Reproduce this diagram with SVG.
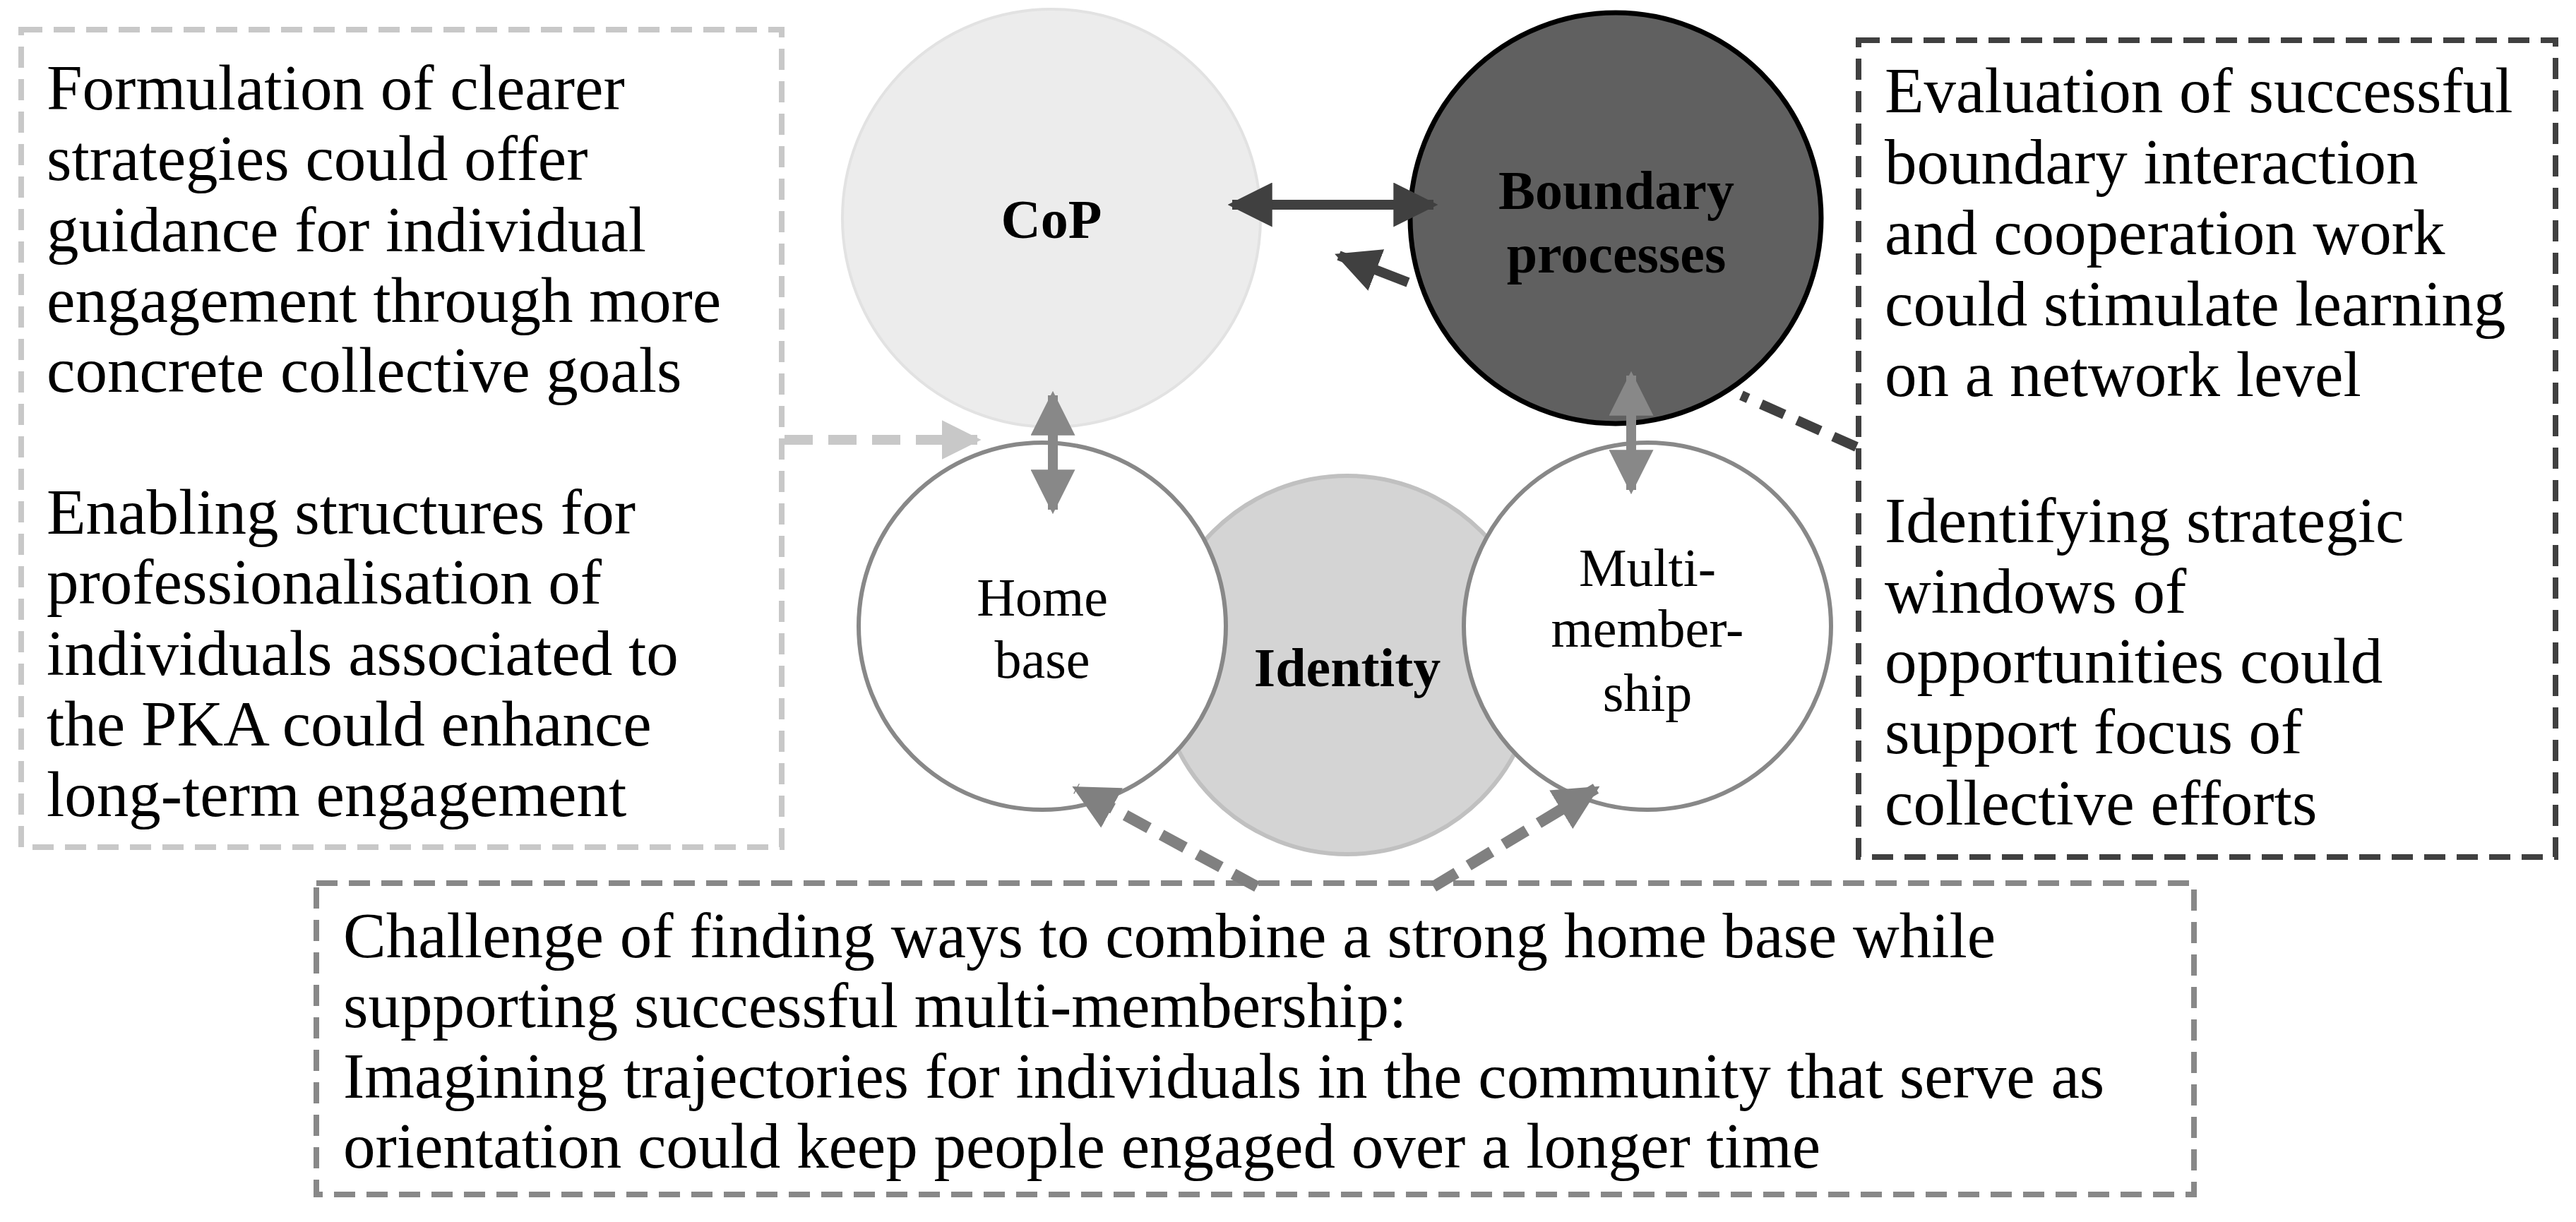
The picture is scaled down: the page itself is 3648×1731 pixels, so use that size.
<svg xmlns="http://www.w3.org/2000/svg" width="3648" height="1731" viewBox="0 0 3648 1731">
<style>
text{font-family:"Liberation Serif","DejaVu Serif",serif;fill:#000}
.t{font-size:91px}
.c{font-size:76px;text-anchor:middle}
.b{font-size:78px;font-weight:bold;text-anchor:middle}
.box{fill:none;stroke-width:8;stroke-dasharray:30 16}
</style>
<defs>
<marker id="hd" viewBox="0 0 10 10" refX="9" refY="5" markerWidth="4.5" markerHeight="4.5" orient="auto-start-reverse"><path d="M0,0L10,5L0,10z" fill="#404040"/></marker>
<marker id="hg" viewBox="0 0 10 10" refX="9" refY="5" markerWidth="4.5" markerHeight="4.5" orient="auto-start-reverse"><path d="M0,0L10,5L0,10z" fill="#888"/></marker>
<marker id="hl" viewBox="0 0 10 10" refX="9" refY="5" markerWidth="4" markerHeight="4" orient="auto"><path d="M0,0L10,5L0,10z" fill="#c8c8c8"/></marker>
<marker id="hm" viewBox="0 0 10 10" refX="9" refY="5" markerWidth="4" markerHeight="4" orient="auto"><path d="M0,0L10,5L0,10z" fill="#808080"/></marker>
</defs>
<rect width="3648" height="1731" fill="#fff"/>
<g id="cop"><circle cx="1489" cy="309" r="296" fill="#ececec" stroke="#e2e2e2" stroke-width="4"/><text class="b" x="1489" y="337">CoP</text></g>
<g id="boundary"><circle cx="2288" cy="309" r="291" fill="#606060" stroke="#000" stroke-width="7"/><text class="b" x="2289" y="296">Boundary</text><text class="b" x="2289" y="386">processes</text></g>
<g id="identity"><circle cx="1908" cy="942" r="268" fill="#d4d4d4" stroke="#c0c0c0" stroke-width="6"/><text class="b" x="1908" y="972">Identity</text></g>
<g id="home"><circle cx="1476" cy="887" r="260" fill="#fff" stroke="#888" stroke-width="6"/><text class="c" x="1476" y="872">Home</text><text class="c" x="1476" y="960">base</text></g>
<g id="multi"><circle cx="2333" cy="887" r="260" fill="#fff" stroke="#888" stroke-width="6"/><text class="c" x="2333" y="830">Multi-</text><text class="c" x="2333" y="916">member-</text><text class="c" x="2333" y="1007">ship</text></g>
<g id="leftbox"><rect class="box" x="30" y="42" width="1077" height="1158" stroke="#c8c8c8"/>
<text class="t" x="66" y="155">Formulation of clearer</text>
<text class="t" x="66" y="255">strategies could offer</text>
<text class="t" x="66" y="356">guidance for individual</text>
<text class="t" x="66" y="456">engagement through more</text>
<text class="t" x="66" y="555">concrete collective goals</text>
<text class="t" x="66" y="756">Enabling structures for</text>
<text class="t" x="66" y="855">professionalisation of</text>
<text class="t" x="66" y="956">individuals associated to</text>
<text class="t" x="66" y="1056">the PKA could enhance</text>
<text class="t" x="66" y="1156">long-term engagement</text></g>
<g id="rightbox"><rect class="box" x="2632" y="57" width="987" height="1157" stroke="#404040" stroke-width="9"/>
<text class="t" x="2669" y="159">Evaluation of successful</text>
<text class="t" x="2669" y="260">boundary interaction</text>
<text class="t" x="2669" y="360">and cooperation work</text>
<text class="t" x="2669" y="461">could stimulate learning</text>
<text class="t" x="2669" y="561">on a network level</text>
<text class="t" x="2669" y="768">Identifying strategic</text>
<text class="t" x="2669" y="868">windows of</text>
<text class="t" x="2669" y="967">opportunities could</text>
<text class="t" x="2669" y="1067">support focus of</text>
<text class="t" x="2669" y="1168">collective efforts</text></g>
<g id="bottombox"><rect class="box" x="448" y="1251" width="2659" height="441" stroke="#888"/>
<text class="t" x="486" y="1356">Challenge of finding ways to combine a strong home base while</text>
<text class="t" x="486" y="1455">supporting successful multi-membership:</text>
<text class="t" x="486" y="1555">Imagining trajectories for individuals in the community that serve as</text>
<text class="t" x="486" y="1654">orientation could keep people engaged over a longer time</text></g>
<g id="connectors" fill="none">
<line x1="1745" y1="290" x2="2030" y2="290" stroke="#404040" stroke-width="14" marker-start="url(#hd)" marker-end="url(#hd)"/>
<line x1="1994" y1="400" x2="1896" y2="362" stroke="#404040" stroke-width="14" marker-end="url(#hd)"/>
<line x1="1491" y1="560" x2="1491" y2="722" stroke="#888" stroke-width="14" marker-start="url(#hg)" marker-end="url(#hg)"/>
<line x1="2310" y1="532" x2="2310" y2="694" stroke="#888" stroke-width="14" marker-start="url(#hg)" marker-end="url(#hg)"/>
<line x1="1111" y1="623" x2="1384" y2="623" stroke="#c8c8c8" stroke-width="14" stroke-dasharray="40 22" marker-end="url(#hl)"/>
<line x1="2629" y1="633" x2="2466" y2="560" stroke="#404040" stroke-width="14" stroke-dasharray="36 20"/>
<line x1="1780" y1="1256" x2="1524" y2="1117" stroke="#808080" stroke-width="16" stroke-dasharray="38 20" marker-end="url(#hm)"/>
<line x1="2030" y1="1256" x2="2260" y2="1117" stroke="#808080" stroke-width="16" stroke-dasharray="38 20" marker-end="url(#hm)"/>
</g>
</svg>
